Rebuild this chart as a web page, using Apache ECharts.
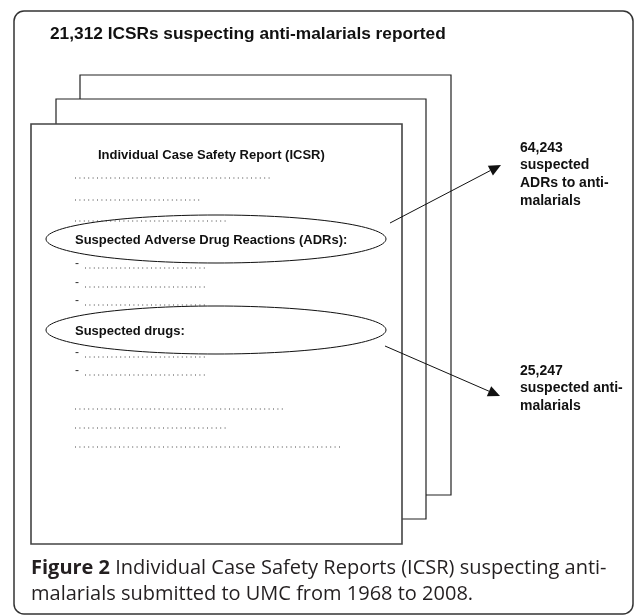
<!DOCTYPE html>
<html>
<head>
<meta charset="utf-8">
<title>ICSRs suspecting anti-malarials</title>
<script src="https://cdn.jsdelivr.net/npm/echarts@6/dist/echarts.min.js"></script>
<style>
  html, body { margin: 0; padding: 0; background: #fff; }
  #main { width: 636px; height: 616px; }
</style>
</head>
<body>
<div id="main"></div>
<script>
// texts of the figure
const titleText = '21,312 ICSRs suspecting anti-malarials reported';
const reportHeading = 'Individual Case Safety Report (ICSR)';
const sectionLabels = ['Suspected Adverse Drug Reactions (ADRs):', 'Suspected drugs:'];
const adrLabel = ['64,243', 'suspected', 'ADRs to anti-', 'malarials'];
const drugLabel = ['25,247', 'suspected anti-', 'malarials'];
const captionBold = 'Figure 2';
const captionLines = [
    ' Individual Case Safety Reports (ICSR) suspecting anti-',
    'malarials submitted to UMC from 1968 to 2008.'
];

const FONT = '"Liberation Sans", Arial, sans-serif';
const CAPTION_FONT = '"Open Sans", "Noto Sans", sans-serif';

let chart = echarts.init(document.getElementById('main'));
let els = [];

// outer frame
els.push({
    type: 'rect',
    shape: { x: 14, y: 11, width: 619, height: 603, r: 10 },
    style: { fill: '#fff', stroke: '#333', lineWidth: 1.5 }
});

els.push({
    type: 'text',
    style: { text: titleText, x: 50, y: 34, font: 'bold 17.3px ' + FONT, fill: '#111', verticalAlign: 'middle' }
});

// stacked pages, back to front
let pages = [
    { x: 80, y: 75, w: 371, h: 420 },
    { x: 56, y: 99, w: 370, h: 420 },
    { x: 31, y: 124, w: 371, h: 420 }
];
pages.forEach(function (p, i) {
    els.push({
        type: 'rect',
        shape: { x: p.x, y: p.y, width: p.w, height: p.h },
        style: { fill: '#fff', stroke: i === 2 ? '#444' : '#222', lineWidth: i === 2 ? 1.6 : 1.2 }
    });
});

els.push({
    type: 'text',
    style: { text: reportHeading, x: 98, y: 155, font: 'bold 13px ' + FONT, fill: '#111', verticalAlign: 'middle' }
});

// dotted filler rows on the report
let rows = [
    { y: 178, x2: 272 }, { y: 200, x2: 202 }, { y: 221, x2: 228 },
    { y: 268, x2: 207, dash: true }, { y: 287, x2: 207, dash: true }, { y: 305, x2: 207, dash: true },
    { y: 357, x2: 207, dash: true }, { y: 375, x2: 207, dash: true },
    { y: 409, x2: 285 }, { y: 428, x2: 227 }, { y: 447, x2: 340 }
];
rows.forEach(function (r) {
    let x1 = 75;
    if (r.dash) {
        els.push({
            type: 'text',
            style: { text: '-', x: 75, y: r.y - 4, font: '12px ' + FONT, fill: '#333', verticalAlign: 'middle' }
        });
        x1 = 85;
    }
    els.push({
        type: 'line',
        shape: { x1: x1, y1: r.y, x2: r.x2, y2: r.y },
        style: { stroke: '#444', lineWidth: 1, lineDash: [1, 3.4] }
    });
});

// highlighted sections
let sectionY = [240, 331];
sectionLabels.forEach(function (s, i) {
    els.push({
        type: 'text',
        style: { text: s, x: 75, y: sectionY[i], font: 'bold 13px ' + FONT, fill: '#111', verticalAlign: 'middle' }
    });
    els.push({
        type: 'ellipse',
        shape: { cx: 216, cy: sectionY[i] - 1, rx: 170, ry: 24 },
        style: { fill: 'none', stroke: '#111', lineWidth: 1 }
    });
});

// arrows out of the report
function arrow(x1, y1, x2, y2) {
    let a = Math.atan2(y2 - y1, x2 - x1), len = 12, hw = 5.5;
    let bx = x2 - len * Math.cos(a), by = y2 - len * Math.sin(a);
    els.push({
        type: 'line',
        shape: { x1: x1, y1: y1, x2: bx, y2: by },
        style: { stroke: '#111', lineWidth: 1 }
    });
    els.push({
        type: 'polygon',
        shape: { points: [[x2, y2],
            [bx + hw * Math.sin(a), by - hw * Math.cos(a)],
            [bx - hw * Math.sin(a), by + hw * Math.cos(a)]] },
        style: { fill: '#111' }
    });
}
arrow(390, 223, 501, 165);
arrow(385, 346, 500, 396);

function labelBlock(lines, x, y) {
    lines.forEach(function (t, i) {
        els.push({
            type: 'text',
            style: { text: t, x: x, y: y + i * 17.6, font: 'bold 14px ' + FONT, fill: '#111', verticalAlign: 'middle' }
        });
    });
}
labelBlock(adrLabel, 520, 148);
labelBlock(drugLabel, 520, 371);

// caption, two lines
els.push({
    type: 'text',
    style: {
        text: '{b|' + captionBold + '}' + captionLines[0],
        x: 31, y: 568,
        font: '20px ' + CAPTION_FONT,
        fill: '#231f20',
        verticalAlign: 'middle',
        rich: { b: { fontWeight: 'bold', fontSize: 20, fontFamily: CAPTION_FONT, fill: '#231f20' } }
    }
});
els.push({
    type: 'text',
    style: {
        text: captionLines[1],
        x: 31, y: 594,
        font: '20px ' + CAPTION_FONT,
        fill: '#231f20',
        verticalAlign: 'middle'
    }
});

chart.setOption({
    animation: false,
    graphic: { elements: els }
});
</script>
</body>
</html>
